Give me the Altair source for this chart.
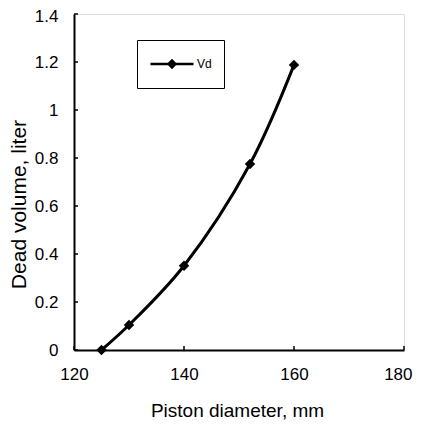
import altair as alt
import pandas as pd

# Data
diameter = [125, 130, 140, 152, 160]
dead_volume = [0.0, 0.104, 0.351, 0.775, 1.188]
series = ["Vd", "Vd", "Vd", "Vd", "Vd"]
x_ticks = [120, 140, 160, 180]
y_ticks = [0, 0.2, 0.4, 0.6, 0.8, 1.0, 1.2, 1.4]

df = pd.DataFrame({"d": diameter, "v": dead_volume, "s": series})
xt = pd.DataFrame({"d": x_ticks})
yt = pd.DataFrame({"v": y_ticks})

FONT = "Liberation Sans"
xscale = alt.Scale(domain=[120, 180], nice=False, zero=False)
yscale = alt.Scale(domain=[0, 1.4], nice=False)

xaxis = alt.Axis(
    values=x_ticks, ticks=False, grid=False, domainColor="black", domainWidth=2,
    labelFont=FONT, labelFontSize=17, labelColor="black", labelPadding=16,
    labelFlush=False, labelOverlap=False,
    labelAlign={"condition": {"test": "datum.value >= 180", "value": "right"}, "value": "center"},
    labelOffset={"condition": {"test": "datum.value >= 180", "value": 8}, "value": 0},
    title="Piston diameter, mm", titleFont=FONT, titleFontSize=19,
    titleFontWeight="normal", titleColor="black", titleX=163, titleY=66,
    titleBaseline="alphabetic",
)
yaxis = alt.Axis(
    values=y_ticks, format="~g", ticks=False, grid=False, domainColor="black",
    domainWidth=2, labelFont=FONT, labelFontSize=17, labelColor="black",
    labelPadding=16, labelFlush=False, labelOverlap=False,
    labelOffset={"condition": {"test": "datum.value >= 1.4", "value": 2}, "value": 0},
    title="Dead volume, liter", titleFont=FONT, titleFontSize=21,
    titleFontWeight="normal", titleColor="black", titleX=-49, titleY=190,
    titleBaseline="alphabetic", titleAngle=270,
)

color = alt.Color(
    "s:N",
    scale=alt.Scale(domain=["Vd"], range=["black"]),
    legend=alt.Legend(
        title=None, orient="none", legendX=63, legendY=26,
        strokeColor="black", fillColor="white", padding=12,
        symbolType="M-1,0L1,0M-0.16,0L0,-0.16L0.16,0L0,0.16Z",
        symbolSize=1849, symbolStrokeWidth=2.5,
        symbolFillColor="black", symbolStrokeColor="black",
        labelFont=FONT, labelFontSize=12, labelColor="black", labelOffset=2,
        clipHeight=24,
    ),
)

line = alt.Chart(df).mark_line(interpolate="catmull-rom", strokeWidth=3).encode(
    x=alt.X("d:Q", scale=xscale, axis=xaxis),
    y=alt.Y("v:Q", scale=yscale, axis=yaxis),
    color=color,
)
pts = alt.Chart(df).mark_point(shape="diamond", filled=True, size=110, opacity=1).encode(
    x=alt.X("d:Q", scale=xscale, axis=xaxis),
    y=alt.Y("v:Q", scale=yscale, axis=yaxis),
    color=color,
)
ytick_marks = alt.Chart(yt).mark_rule(color="black", strokeWidth=1.5).encode(
    y=alt.Y("v:Q", scale=yscale, axis=yaxis), x=alt.value(0), x2=alt.value(4)
)
xtick_marks = alt.Chart(xt).mark_rule(color="black", strokeWidth=1.5).encode(
    x=alt.X("d:Q", scale=xscale, axis=xaxis), y=alt.value(336), y2=alt.value(332)
)

chart = alt.layer(ytick_marks, xtick_marks, line, pts).properties(
    width=330, height=336,
    padding={"left": 66, "top": 6, "right": 9, "bottom": 70},
    autosize=alt.AutoSizeParams(type="none"),
).configure_view(stroke="black", strokeWidth=1).configure(background="white")

chart.save("out.html", embed_options={"renderer": "svg", "actions": False})
